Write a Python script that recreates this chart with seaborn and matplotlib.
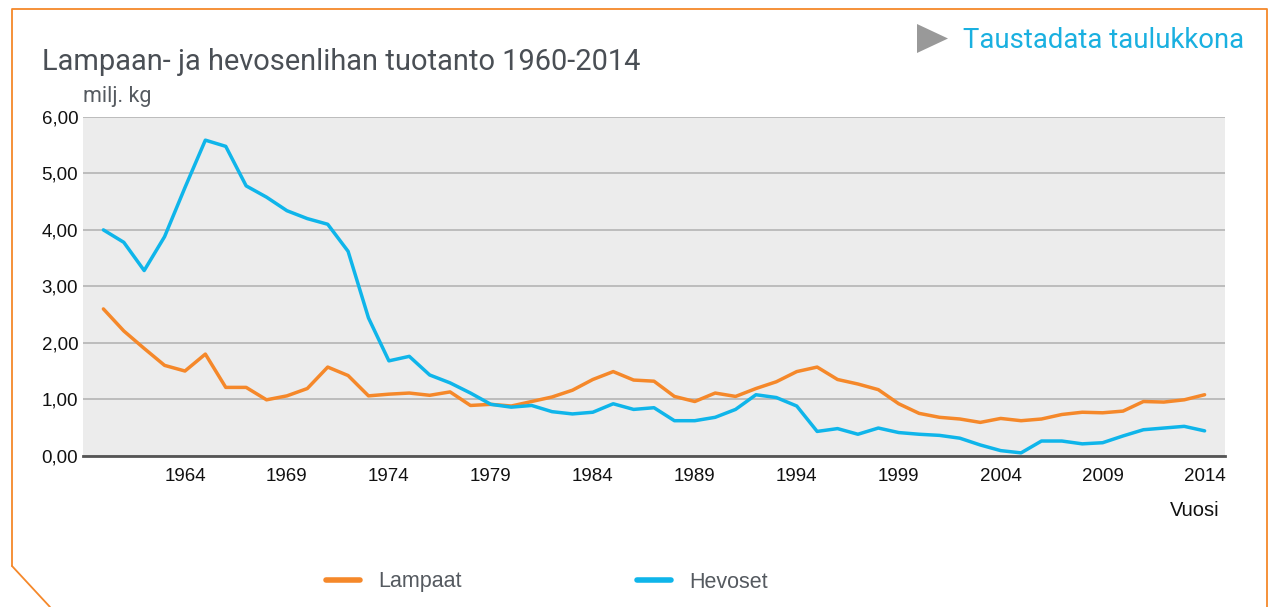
import numpy as np
import pandas as pd
import seaborn as sns
import matplotlib.pyplot as plt
from matplotlib.lines import Line2D
from matplotlib.patches import Polygon

# data (milj. kg)
years = list(range(1960, 2015))
lampaat = [2.60, 2.21, 1.90, 1.60, 1.50, 1.80, 1.21, 1.21, 0.99, 1.06,
           1.19, 1.57, 1.42, 1.06, 1.09, 1.11, 1.07, 1.13, 0.89, 0.91,
           0.88, 0.96, 1.04, 1.16, 1.35, 1.49, 1.34, 1.32, 1.05, 0.96,
           1.11, 1.05, 1.19, 1.31, 1.49, 1.57, 1.35, 1.27, 1.17, 0.92,
           0.75, 0.68, 0.65, 0.59, 0.66, 0.62, 0.65, 0.73, 0.77, 0.76,
           0.79, 0.96, 0.95, 0.99, 1.08]
hevoset = [4.00, 3.78, 3.28, 3.88, 4.75, 5.59, 5.48, 4.78, 4.58, 4.34,
           4.20, 4.10, 3.62, 2.44, 1.68, 1.76, 1.43, 1.29, 1.11, 0.91,
           0.86, 0.89, 0.78, 0.74, 0.77, 0.92, 0.82, 0.85, 0.62, 0.62,
           0.68, 0.82, 1.08, 1.03, 0.88, 0.43, 0.48, 0.38, 0.49, 0.41,
           0.38, 0.36, 0.31, 0.19, 0.09, 0.05, 0.26, 0.26, 0.21, 0.23,
           0.35, 0.46, 0.49, 0.52, 0.44]
series_names = ['Lampaat', 'Hevoset']
colors = ['#f5882a', '#0fb5ea']
y_ticks = [0, 1, 2, 3, 4, 5, 6]
x_ticks = list(range(1964, 2015, 5))

df = pd.DataFrame({'Vuosi': years * 2,
                   'arvo': lampaat + hevoset,
                   'sarja': [series_names[0]] * len(years) + [series_names[1]] * len(years)})

sns.set_style('white')
plt.rcParams['font.family'] = ['Liberation Sans', 'DejaVu Sans']

W, H = 1272, 607
fig = plt.figure(figsize=(W / 100, H / 100), dpi=100)
ax = fig.add_axes([83 / W, 1 - 455.7 / H, (1225 - 83) / W, (455.7 - 117) / H])
ax.set_facecolor('#ececec')

sns.lineplot(data=df, x='Vuosi', y='arvo', hue='sarja', palette=colors,
             linewidth=2.5, ax=ax, legend=False, zorder=3)

ax.set_xlim(1959, 2015)
ax.set_ylim(0, 6)
ax.set_yticks(y_ticks)
ax.set_yticklabels([f'{v:.2f}'.replace('.', ',') for v in y_ticks])
ax.set_xticks(x_ticks)
ax.set_xticklabels([str(v) for v in x_ticks])
ax.tick_params(axis='both', length=0, labelsize=13.5, colors='#111111')
ax.tick_params(axis='x', pad=9)
ax.tick_params(axis='y', pad=3.5)
ax.grid(axis='y', color='#b4b4b4', linewidth=1.2, zorder=1)
ax.set_axisbelow(True)
for s in ['left', 'right', 'top']:
    ax.spines[s].set_visible(False)
ax.spines['bottom'].set_color('#555555')
ax.spines['bottom'].set_linewidth(2)
ax.set_xlabel('')
ax.set_ylabel('')

# texts
fig.text(42 / W, 1 - 62 / H, 'Lampaan- ja hevosenlihan tuotanto 1960-2014',
         fontsize=20.9, color='#4a4f55', va='center', ha='left', family=['Roboto', 'DejaVu Sans'])
fig.text(83 / W, 1 - 97 / H, 'milj. kg', fontsize=15.5, color='#555a60',
         va='center', ha='left', family=['Roboto', 'DejaVu Sans'])
fig.text(1220 / W, 1 - 511 / H, 'Vuosi', fontsize=14.5, color='#111111',
         va='center', ha='right')
fig.text(963 / W, 1 - 40 / H, 'Taustadata taulukkona', fontsize=19.8, color='#1ab0e0',
         va='center', ha='left', family=['Roboto', 'DejaVu Sans'])
fig.add_artist(Polygon([[917 / W, 1 - 24 / H], [917 / W, 1 - 53 / H], [948 / W, 1 - 38.5 / H]],
                       closed=True, facecolor='#999999', edgecolor='none', transform=fig.transFigure))

# legend
handles = [Line2D([0], [0], color=c, linewidth=4) for c in colors]
fig.legend(handles, series_names, loc='center', bbox_to_anchor=(547 / W, 1 - 582 / H),
           ncol=2, frameon=False, fontsize=15.5, handlelength=1.6, handletextpad=0.85,
           columnspacing=8.1, labelcolor='#555a60')

# orange frame
frame_x = [12 / W, 12 / W, 1267 / W, 1267 / W]
frame_y = [1 - 566 / H, 1 - 9 / H, 1 - 9 / H, 0]
fig.add_artist(Line2D(frame_x, frame_y, color='#f5882a', linewidth=1.3, transform=fig.transFigure))
fig.add_artist(Line2D([12 / W, 50 / W], [1 - 566 / H, 0], color='#f5882a',
                      linewidth=1.3, transform=fig.transFigure))

fig.savefig('out.png', dpi=100)
